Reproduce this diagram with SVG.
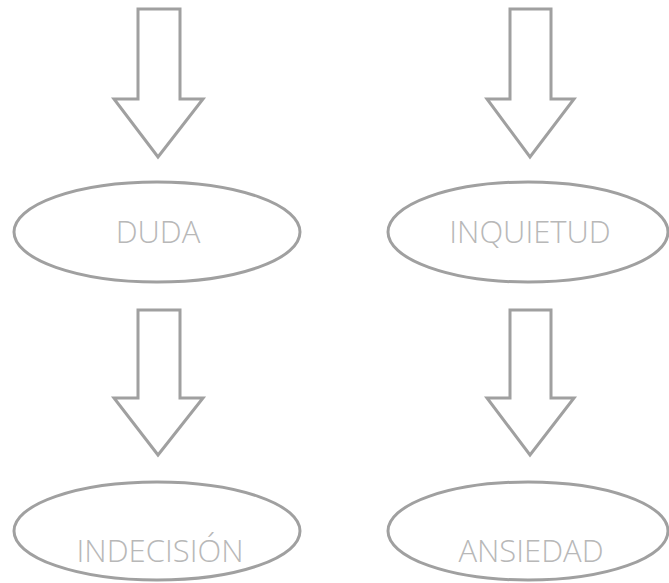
<svg xmlns="http://www.w3.org/2000/svg" width="669" height="583" viewBox="0 0 669 583">
<style>
.shape{fill:#fff;stroke:#a0a0a0;stroke-width:3}
.lbl{font-family:"Open Sans","Liberation Sans",sans-serif;font-weight:300;font-size:31px;fill:#b8b8b8;text-anchor:middle}
</style>
<rect width="669" height="583" fill="#fff"/>
<g id="connectors">
<polygon class="shape" points="138,9 180,9 180,99 203,99 158,157 114,99 138,99"/>
<polygon class="shape" points="510,9 551,9 551,99 574,99 530,157 487,99 510,99"/>
<polygon class="shape" points="138,310 180,310 180,398 203,398 158,455 114,398 138,398"/>
<polygon class="shape" points="510,310 551,310 551,398 574,398 530,455 487,398 510,398"/>
</g>
<g id="duda"><ellipse class="shape" cx="157" cy="232" rx="143" ry="50"/><text class="lbl" x="158" y="243">DUDA</text></g>
<g id="inquietud"><ellipse class="shape" cx="528" cy="232" rx="140" ry="50"/><text class="lbl" x="530" y="243">INQUIETUD</text></g>
<g id="indecision"><ellipse class="shape" cx="157" cy="531" rx="143" ry="49"/><text class="lbl" x="160" y="562">INDECISIÓN</text></g>
<g id="ansiedad"><ellipse class="shape" cx="528" cy="531" rx="140" ry="49"/><text class="lbl" x="531" y="562">ANSIEDAD</text></g>
</svg>
